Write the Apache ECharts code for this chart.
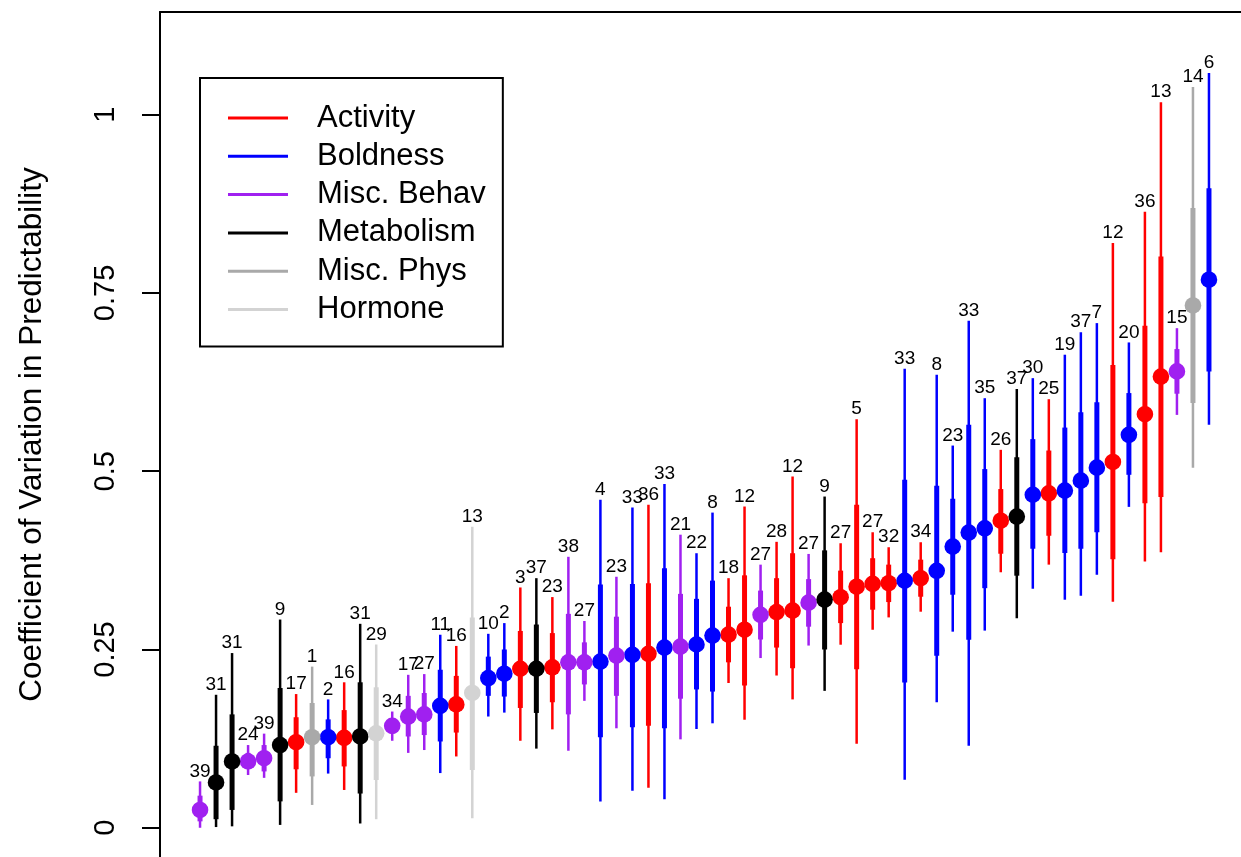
<!DOCTYPE html>
<html>
<head>
<meta charset="utf-8">
<script src="https://cdn.jsdelivr.net/npm/echarts@6/dist/echarts.min.js"></script>
<style>
html, body { margin: 0; padding: 0; background: #fff; }
#chart { width: 1241px; height: 857px; }
</style>
</head>
<body>
<div id="chart"></div>
<script>
// trait groups
var groupNames = ['Activity', 'Boldness', 'Misc. Behav', 'Metabolism', 'Misc. Phys', 'Hormone'];
var groupColors = ['#FF0000', '#0000FF', '#A020F0', '#000000', '#A9A9A9', '#D3D3D3'];

// one entry per estimate, in plotting order (x = 1..64)
var groupIdx = [2,3,3,2,2,3,0,4,1,0, 3,5,2,2,2,1,0,5,1,1, 0,3,0,2,2,1,2,1,0,1,
                2,1,1,0,0,2,0,0,2,3, 0,0,0,0,1,0,1,1,1,1, 0,3,1,0,1,1,1,0,1,0, 0,2,4,1];
var studyLabels = [39,31,31,24,39,9,17,1,2,16, 31,29,34,17,27,11,16,13,10,2, 3,37,23,38,27,4,23,33,36,33,
                   21,22,8,18,12,27,28,12,27,9, 27,5,27,32,33,34,8,23,33,35, 26,37,30,25,19,37,7,12,20,36, 13,15,14,6];
var centre = [.025,.0635,.093,.093,.0975,.116,.12,.127,.127,.126, .128,.1325,.143,.156,.159,.171,.173,.189,.21,.216,
              .223,.223,.225,.232,.232,.233,.2415,.2426,.244,.2527, .254,.257,.2695,.271,.2777,.2987,.3025,.3045,.3157,.32,
              .3233,.338,.342,.343,.3464,.35,.3604,.3943,.414,.42, .4306,.4364,.467,.469,.4728,.4868,.505,.513,.551,.58,
              .6327,.64,.7325,.7686];
var innerLo = [.009,.012,.025,.083,.079,.037,.082,.072,.0975,.086, .048,.067,.132,.128,.130,.121,.1335,.081,.185,.184,
               .168,.161,.176,.159,.201,.127,.185,.141,.143,.1395, .181,.194,.191,.232,.1995,.264,.2527,.2237,.282,.25,
               .287,.2223,.3058,.3165,.2037,.324,.2412,.3268,.2637,.336, .3843,.3535,.3913,.4095,.3853,.3913,.4144,.3766,.495,.455,
               .464,.6087,.5956,.64];
var innerHi = [.045,.115,.159,.105,.116,.196,.155,.175,.152,.165, .204,.197,.154,.185,.189,.2216,.213,.295,.24,.25,
               .276,.285,.273,.30,.26,.341,.296,.342,.343,.364, .328,.321,.3466,.31,.354,.3326,.35,.385,.3487,.389,
               .3606,.453,.378,.369,.488,.376,.4797,.4614,.565,.503, .475,.5196,.545,.529,.5612,.5828,.5967,.649,.6096,.704,
               .801,.6713,.869,.897];
var outerLo = [0,.001,.002,.074,.070,.004,.049,.032,.076,.053, .006,.012,.122,.105,.109,.0767,.100,.0135,.156,.1615,
               .122,.111,.138,.108,.178,.037,.1395,.052,.056,.04, .124,.1385,.1465,.203,.1515,.238,.2135,.18,.2555,.192,
               .2567,.1178,.2777,.295,.0673,.303,.176,.275,.115,.2765, .3583,.2938,.3352,.369,.3198,.3254,.3548,.317,.45,.3735,
               .3864,.579,.505,.5652];
var outerHi = [.065,.1865,.245,.116,.132,.292,.1875,.226,.18,.204, .286,.257,.163,.2145,.2155,.2707,.255,.422,.272,.287,
               .337,.35,.3235,.38,.29,.46,.352,.449,.453,.482, .411,.385,.442,.35,.4505,.369,.401,.4926,.384,.4645,
               .399,.573,.4144,.3934,.6438,.4004,.6353,.536,.711,.6024, .53,.6153,.6305,.601,.6634,.695,.7077,.82,.6806,.864,
               1.0175,.7006,1.0388,1.0584];
var yTicks = [0, 0.25, 0.5, 0.75, 1];

var font = '"Liberation Sans", Arial, Helvetica, sans-serif';

function renderItem(params, api) {
    var x = api.value(0);
    var c = api.coord([x, api.value(1)]);
    var il = api.coord([x, api.value(2)]);
    var ih = api.coord([x, api.value(3)]);
    var ol = api.coord([x, api.value(4)]);
    var oh = api.coord([x, api.value(5)]);
    var col = api.visual('color');
    return {
        type: 'group',
        children: [
            { type: 'line', shape: { x1: ol[0], y1: ol[1], x2: oh[0], y2: oh[1] },
              style: { stroke: col, lineWidth: 2.5 } },
            { type: 'line', shape: { x1: il[0], y1: il[1], x2: ih[0], y2: ih[1] },
              style: { stroke: col, lineWidth: 5 } },
            { type: 'circle', shape: { cx: c[0], cy: c[1], r: 8.3 },
              style: { fill: col } },
            { type: 'text', x: oh[0], y: oh[1] - 10,
              style: { text: String(api.value(6)), fill: '#000', fontSize: 19, fontFamily: font,
                       textAlign: 'center', textVerticalAlign: 'middle' } }
        ]
    };
}

var series = [];
groupNames.forEach(function(name, g) {
    var data = [];
    groupIdx.forEach(function(v, k) {
        if (v === g) {
            data.push([k + 1, centre[k], innerLo[k], innerHi[k], outerLo[k], outerHi[k], studyLabels[k]]);
        }
    });
    series.push({
        name: name,
        type: 'custom',
        renderItem: renderItem,
        itemStyle: { color: groupColors[g] },
        encode: { x: 0, y: [1, 2, 3, 4, 5] },
        clip: false,
        silent: true,
        data: data
    });
});

var chart = echarts.init(document.getElementById('chart'));
chart.setOption({
    animation: false,
    backgroundColor: '#fff',
    grid: { left: 160, right: 0, top: 12, bottom: 0 },
    legend: {
        data: groupNames,
        orient: 'vertical',
        left: 200,
        top: 78,
        padding: [24, 17, 21, 28],
        itemGap: 6.3,
        itemWidth: 60,
        itemHeight: 3,
        icon: 'rect',
        selectedMode: false,
        borderColor: '#000',
        borderWidth: 2,
        textStyle: { fontSize: 31, lineHeight: 32, color: '#000', fontFamily: font, padding: [0, 0, 0, 24] }
    },
    xAxis: {
        type: 'value',
        position: 'top',
        min: -1.5,
        max: 66,
        axisLine: { show: true, onZero: false, lineStyle: { color: '#000', width: 2 } },
        axisTick: { show: false },
        axisLabel: { show: false },
        splitLine: { show: false }
    },
    yAxis: {
        type: 'value',
        min: -0.041,
        max: 1.144,
        name: 'Coefficient of Variation in Predictability',
        nameLocation: 'middle',
        nameGap: 112,
        nameTextStyle: { fontSize: 31.5, color: '#000', fontFamily: font },
        axisLine: { show: true, onZero: false, lineStyle: { color: '#000', width: 2 } },
        axisTick: { show: true, length: 18, lineStyle: { color: '#000', width: 2 }, customValues: yTicks },
        axisLabel: { rotate: 90, margin: 40, fontSize: 29, color: '#000', fontFamily: font, customValues: yTicks,
                     formatter: function(v) { return String(v); } },
        splitLine: { show: false }
    },
    series: series
});
</script>
</body>
</html>
